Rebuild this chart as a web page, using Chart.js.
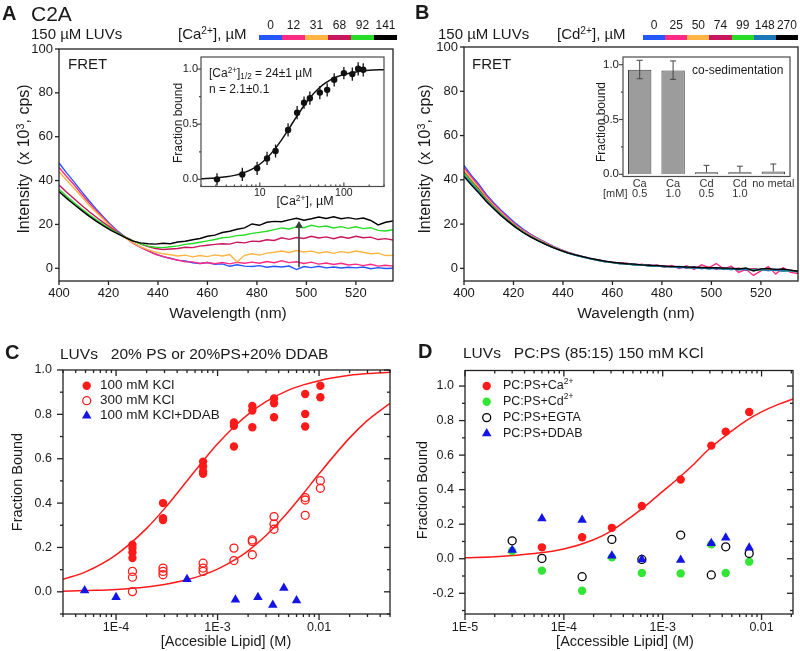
<!DOCTYPE html>
<html>
<head>
<meta charset="utf-8">
<title>C2A FRET and membrane binding</title>
<script src="https://cdn.jsdelivr.net/npm/chart.js@4.4.1/dist/chart.umd.min.js"></script>
<style>
html,body{margin:0;padding:0;background:#fff;}
#fig{position:relative;width:800px;height:651px;overflow:hidden;background:#fff;font-family:"Liberation Sans",Arial,Helvetica,sans-serif;color:#1a1a1a;}
#fig canvas{position:absolute;left:0;top:0;width:800px;height:651px;}
.t{position:absolute;white-space:pre;line-height:1;}
.lm{transform:translateY(-50%);}
.c{transform:translate(-50%,-50%);}
.rot{transform:translate(-50%,-50%) rotate(-90deg);}
.b{font-weight:bold;}
sup,sub{font-size:0.68em;line-height:0;position:relative;vertical-align:baseline;}
sup{top:-0.5em;}
sub{top:0.3em;}
.cbar{position:absolute;display:flex;height:5px;}
.cbar span{flex:1 1 0;}
.clab{position:absolute;display:flex;font-size:12px;line-height:1;}
.clab span{flex:1 1 0;text-align:center;}
</style>
</head>
<body>
<div id="fig">
<canvas id="cA" width="800" height="651"></canvas>
<canvas id="cIA" width="800" height="651"></canvas>
<canvas id="cB" width="800" height="651"></canvas>
<canvas id="cIB" width="800" height="651"></canvas>
<canvas id="cC" width="800" height="651"></canvas>
<canvas id="cD" width="800" height="651"></canvas>

<!-- Panel A texts -->
<div class="t lm b" style="left:2px;top:13px;font-size:20px">A</div>
<div class="t lm" style="left:31px;top:13px;font-size:21px">C2A</div>
<div class="t lm" style="left:31px;top:33px;font-size:15px">150 µM LUVs</div>
<div class="t lm" style="left:178px;top:33px;font-size:15px">[Ca<sup>2+</sup>], µM</div>
<div class="clab" id="labA" style="left:259px;top:19px;width:138px"></div>
<div class="cbar" id="barA" style="left:259px;top:35px;width:138px"></div>
<div class="t lm" style="left:68px;top:63px;font-size:15px">FRET</div>
<div class="t rot" style="left:24px;top:159px;font-size:16px">Intensity  (x 10<sup>3</sup>, cps)</div>
<div class="t c" style="left:228px;top:313px;font-size:15.5px">Wavelength (nm)</div>
<div class="t lm" style="left:209px;top:73px;font-size:12px">[Ca<sup>2+</sup>]<sub>1/2</sub> = 24±1 µM</div>
<div class="t lm" style="left:209px;top:89px;font-size:12px">n = 2.1±0.1</div>
<div class="t rot" style="left:178px;top:123px;font-size:12px">Fraction bound</div>
<div class="t c" style="left:305px;top:201px;font-size:12.5px">[Ca<sup>2+</sup>], µM</div>

<!-- Panel B texts -->
<div class="t lm b" style="left:415px;top:12px;font-size:20px">B</div>
<div class="t lm" style="left:438px;top:33px;font-size:15px">150 µM LUVs</div>
<div class="t lm" style="left:557px;top:33px;font-size:15px">[Cd<sup>2+</sup>], µM</div>
<div class="clab" id="labB" style="left:643px;top:19px;width:155px"></div>
<div class="cbar" id="barB" style="left:643px;top:35px;width:155px"></div>
<div class="t lm" style="left:472px;top:63px;font-size:15px">FRET</div>
<div class="t rot" style="left:425px;top:159px;font-size:16px">Intensity  (x 10<sup>3</sup>, cps)</div>
<div class="t c" style="left:636px;top:313px;font-size:15.5px">Wavelength (nm)</div>
<div class="t lm" style="left:692px;top:70px;font-size:12px">co-sedimentation</div>
<div class="t rot" style="left:601px;top:122px;font-size:12px">Fraction bound</div>
<div class="t lm" style="left:603px;top:193px;font-size:11px;color:#333">[mM]</div>

<!-- Panel C texts -->
<div class="t lm b" style="left:5px;top:352px;font-size:20px">C</div>
<div class="t lm" style="left:60px;top:354px;font-size:15.5px">LUVs   20% PS or 20%PS+20% DDAB</div>
<div class="t rot" style="left:17px;top:482px;font-size:14.5px">Fraction Bound</div>
<div class="t c" style="left:226px;top:641px;font-size:14.5px">[Accesible Lipid] (M)</div>

<!-- Panel D texts -->
<div class="t lm b" style="left:418px;top:351px;font-size:20px">D</div>
<div class="t lm" style="left:463px;top:353px;font-size:15.5px">LUVs   PC:PS (85:15) 150 mM KCl</div>
<div class="t rot" style="left:422px;top:490px;font-size:14.5px">Fraction Bound</div>
<div class="t c" style="left:625px;top:641px;font-size:14.5px">[Accessible Lipid] (M)</div>
</div>

<script>
Chart.defaults.font.family = '"Liberation Sans", Arial, Helvetica, sans-serif';
Chart.defaults.color = '#1a1a1a';

// ================= DATA =================
// Panel A: FRET spectra, [Ca2+] titration
const WL = [400,403,406,409,412,415,418,421,424,427,430,433,436,439,442,445,448,451,454,457,460,463,466,469,472,475,478,481,484,487,490,493,496,499,502,505,508,511,514,517,520,523,526,529,532,535];
const A_CONC = ['0','12','31','68','92','141'];
const A_S0   = [48.0,43.6,39.5,35.2,31.0,27.1,23.4,19.8,16.7,14.0,11.5,9.6,8.0,6.5,5.3,4.6,3.6,3.4,2.5,2.2,2.6,1.8,2.0,0.9,1.6,1.0,0.8,1.2,0.5,0.9,0.6,1.0,-0.6,0.8,0.3,0.9,0.2,0.6,0.1,0.5,0.2,0.6,-0.2,0.3,-0.1,0.0];
const A_S12  = [46.0,42.0,38.2,34.0,30.0,26.3,22.8,19.3,16.3,13.8,11.4,9.5,7.9,6.4,5.4,4.4,3.8,3.0,2.9,2.2,2.6,2.1,2.6,2.0,2.7,2.3,2.8,2.3,3.1,2.5,3.4,2.6,3.0,2.2,2.8,1.9,2.4,1.7,2.3,1.5,1.9,1.2,1.8,1.0,1.4,1.0];
const A_S31  = [44.0,40.3,36.6,32.8,29.0,25.6,22.2,18.9,16.1,13.7,11.6,9.8,8.5,7.4,6.6,6.2,5.6,6.0,5.2,5.8,5.3,6.1,5.6,6.3,2.9,5.9,6.6,6.0,6.9,7.3,7.9,7.2,8.1,7.4,7.8,7.0,7.5,6.8,7.6,7.1,7.9,7.3,6.6,6.9,5.8,5.9];
const A_S68  = [38.0,34.8,31.8,28.9,26.0,23.4,20.8,18.4,16.2,14.2,12.5,11.0,9.9,9.0,8.6,8.8,9.0,9.6,9.4,10.1,10.5,10.9,11.2,11.0,11.9,11.6,12.4,12.2,13.0,12.7,13.9,13.2,14.0,13.6,14.6,13.8,14.3,13.5,14.4,13.7,14.6,13.9,14.2,13.1,13.5,12.9];
const A_S92  = [36.0,32.9,30.0,27.2,24.6,22.2,19.9,17.8,15.9,14.0,12.4,11.1,10.1,9.6,9.4,9.8,10.2,10.9,11.3,11.9,12.5,13.1,13.9,14.2,14.9,15.2,15.9,16.4,16.9,17.6,18.4,17.9,18.9,18.5,19.6,18.9,19.3,18.4,19.0,18.2,18.9,18.1,18.5,17.3,17.0,17.6];
const A_S141 = [35.0,32.0,29.2,26.5,23.9,21.5,19.3,17.3,15.6,13.9,12.4,11.6,11.2,11.0,11.4,11.2,12.0,12.3,13.0,13.6,14.6,15.1,16.3,16.9,17.8,18.4,20.2,19.6,21.0,21.4,21.2,22.1,22.8,21.9,22.6,23.4,22.7,23.5,22.6,23.1,22.4,22.9,21.8,19.8,21.0,21.6];
const A_SERIES = [A_S0, A_S12, A_S31, A_S68, A_S92, A_S141];
const A_COLORS = ['#2456ff','#ff2a84','#ffb443','#c8175c','#26dc26','#000000'];
const ARROW_X = [497, 497];
const ARROW_Y = [0.5, 19.5];
const A_XTICKS = [400,420,440,460,480,500,520];
const A_YTICKS = [0,20,40,60,80,100];

// Inset A: Ca2+ titration of binding
const IA_X   = [3.1,6.2,9.3,12.2,15.4,21.7,27.8,33.6,39.4,51.8,63.3,76.7,100,126,148,170];
const IA_Y   = [0.000,0.045,0.100,0.190,0.257,0.448,0.605,0.696,0.736,0.787,0.812,0.903,0.964,0.955,1.003,0.994];
const IA_ERR = [0.055,0.06,0.06,0.06,0.06,0.06,0.06,0.055,0.06,0.06,0.06,0.06,0.055,0.06,0.06,0.06];
const IA_FIT_X = [2,3,4,5,6,8,10,12,15,18,21,24,28,33,40,50,60,80,100,150,200,300];
const IA_FIT_Y = [0.005,0.013,0.023,0.036,0.052,0.091,0.137,0.189,0.272,0.354,0.43,0.5,0.58,0.661,0.745,0.824,0.873,0.926,0.952,0.979,0.989,0.995];
const IA_XTICKS = [10,100];
const IA_XLAB = ['10','100'];
const IA_YTICKS = [0,0.5,1];
const IA_YLAB = ['0.0','0.5','1.0'];

// Panel B: FRET spectra, [Cd2+] titration
const B_CONC = ['0','25','50','74','99','148','270'];
const B_S0   = [46.5,42.0,38.0,33.4,29.7,26.3,23.2,20.2,17.6,15.4,13.4,11.7,10.0,8.6,7.3,6.3,5.4,4.6,3.8,3.3,2.7,2.5,2.0,1.9,1.4,1.5,1.0,1.2,0.6,0.9,0.2,0.6,-0.2,0.4,-0.3,0.1,-0.6,0.0,-0.8,-0.2,-0.6,-1.0,-0.4,-1.3,-0.8,-1.5];
const B_S25  = [45.5,41.3,37.2,32.7,29.1,25.7,22.6,19.7,17.2,15.1,13.2,11.5,9.8,8.5,7.2,6.1,5.3,4.4,3.8,3.0,2.8,2.2,2.3,1.5,1.9,1.0,1.5,0.5,1.3,0.0,1.2,-0.5,1.6,0.4,2.2,-0.3,1.1,-1.8,-0.4,-3.2,-1.1,0.8,-2.6,0.3,-1.8,-2.3];
const B_S50  = [44.5,40.2,36.3,31.9,28.3,25.1,22.0,19.2,16.8,14.8,13.0,11.3,9.7,8.3,7.1,6.1,5.2,4.5,3.8,3.1,2.7,2.2,2.1,1.6,1.6,1.2,1.2,0.8,0.9,0.5,0.5,0.2,0.3,-0.1,0.2,-0.3,0.0,-0.5,-0.2,-0.7,-0.4,-0.9,-0.6,-1.1,-0.9,-1.3];
const B_S74  = [43.5,39.4,35.6,31.3,27.8,24.6,21.6,18.9,16.5,14.5,12.7,11.1,9.6,8.2,7.0,6.0,5.2,4.4,3.7,3.2,2.6,2.4,1.9,1.8,1.4,1.4,1.0,1.1,0.6,0.8,0.3,0.6,0.0,0.4,-0.2,0.3,-0.4,0.1,-0.6,-0.1,-0.8,-0.3,-1.0,-0.6,-1.1,-1.4];
const B_S99  = [43.0,39.0,35.2,31.0,27.6,24.4,21.5,18.8,16.4,14.4,12.6,11.0,9.5,8.1,6.9,6.0,5.1,4.4,3.6,3.1,2.6,2.2,2.0,1.6,1.5,1.2,1.1,0.8,0.8,0.5,0.5,0.2,0.3,0.0,0.1,-0.3,-0.1,-0.5,-0.3,-0.7,-0.5,-0.9,-0.7,-1.1,-1.0,-1.6];
const B_S148 = [42.0,38.2,34.6,30.6,27.3,24.1,21.3,18.6,16.3,14.3,12.5,10.9,9.4,8.1,6.9,5.9,5.1,4.3,3.7,3.0,2.6,2.1,2.0,1.5,1.5,1.1,1.1,0.7,0.8,0.3,0.5,0.0,0.3,-0.3,0.1,-0.4,-0.2,-0.6,-0.4,-0.8,-0.5,-1.0,-0.8,-1.2,-1.0,-1.5];
const B_S270 = [41.5,37.6,34.0,30.2,26.9,23.8,21.0,18.4,16.1,14.1,12.4,10.8,9.4,8.1,7.0,6.1,5.3,4.5,3.9,3.3,2.8,2.4,2.1,1.9,1.6,1.4,1.3,1.0,0.9,0.8,0.6,0.5,0.4,0.3,0.3,0.1,0.1,-0.3,0.2,-1.2,-0.2,0.0,-0.5,-0.3,-0.8,-1.3];
const B_SERIES = [B_S0, B_S25, B_S50, B_S74, B_S99, B_S148, B_S270];
const B_COLORS = ['#2456ff','#ff2a84','#ffb443','#c8175c','#26dc26','#1a78b8','#000000'];

// Inset B: co-sedimentation
const IB_CATS = [['Ca','0.5'],['Ca','1.0'],['Cd','0.5'],['Cd','1.0'],'no metal'];
const IB_VAL  = [0.954,0.948,0.018,0.018,0.026];
const IB_UP   = [0.086,0.086,0.064,0.056,0.068];
const IB_DN   = [0.082,0.082,0,0,0];
const IB_YTICKS = [0,0.5,1];
const IB_YLAB = ['0.0','0.5','1.0'];

// Panel C
const C_X_100 = [1.45e-4,1.45e-4,1.45e-4,1.45e-4,2.9e-4,2.9e-4,2.9e-4,7.2e-4,7.2e-4,7.2e-4,7.2e-4,1.45e-3,1.45e-3,1.45e-3,2.2e-3,2.2e-3,2.2e-3,3.6e-3,3.6e-3,3.6e-3,7.3e-3,7.3e-3,7.3e-3,1.03e-2,1.03e-2];
const C_Y_100 = [0.212,0.197,0.177,0.152,0.400,0.332,0.324,0.587,0.565,0.542,0.532,0.763,0.748,0.655,0.838,0.817,0.742,0.872,0.850,0.787,0.892,0.802,0.745,0.929,0.877];
const C_X_300 = [1.45e-4,1.45e-4,1.45e-4,2.9e-4,2.9e-4,2.9e-4,7.2e-4,7.2e-4,7.2e-4,1.45e-3,1.45e-3,2.2e-3,2.2e-3,2.2e-3,3.6e-3,3.6e-3,3.6e-3,7.3e-3,7.3e-3,7.3e-3,1.03e-2,1.03e-2];
const C_Y_300 = [0.092,0.066,0.001,0.107,0.092,0.077,0.129,0.107,0.092,0.197,0.141,0.234,0.227,0.167,0.339,0.306,0.282,0.425,0.414,0.345,0.501,0.467];
const C_X_DDAB = [4.9e-5,1.0e-4,5.0e-4,1.5e-3,2.5e-3,3.5e-3,4.5e-3,6.0e-3];
const C_Y_DDAB = [0.006,-0.024,0.057,-0.036,-0.024,-0.059,0.017,-0.039];
const C_FIT_X   = [3e-5,5e-5,1e-4,2e-4,3e-4,5e-4,7e-4,1e-3,1.5e-3,2e-3,3e-3,5e-3,7e-3,1e-2,2e-2,3e-2,5e-2];
const C_FIT_100 = [0.056,0.09,0.167,0.286,0.375,0.5,0.583,0.667,0.75,0.8,0.857,0.909,0.933,0.952,0.976,0.984,0.99];
const C_FIT_300 = [0.003,0.006,0.011,0.022,0.033,0.054,0.074,0.102,0.146,0.185,0.254,0.362,0.443,0.532,0.694,0.773,0.85];
const C_XTICKS = [1e-4,1e-3,1e-2];
const C_XLAB = ['1E-4','1E-3','0.01'];
const C_YTICKS = [0,0.2,0.4,0.6,0.8,1.0];
const C_YLAB = ['0.0','0.2','0.4','0.6','0.8','1.0'];

// Panel D
const D_X_CA = [6.0e-5,1.53e-4,3.06e-4,6.15e-4,1.52e-3,3.1e-3,4.34e-3,7.5e-3];
const D_Y_CA = [0.066,0.124,0.179,0.305,0.459,0.655,0.736,0.850];
const D_X    = [3.0e-5,6.0e-5,1.53e-4,3.06e-4,6.15e-4,1.52e-3,3.1e-3,4.34e-3,7.5e-3];
const D_Y_CD   = [0.045,-0.069,-0.185,0.008,-0.083,-0.085,0.083,-0.083,-0.017];
const D_Y_EGTA = [0.104,0.002,-0.104,0.112,-0.004,0.137,-0.094,0.069,0.031];
const D_Y_DDAB = [0.050,0.233,0.224,0.017,-0.004,-0.008,0.089,0.121,0.064];
const D_FIT_X = [1e-5,2e-5,5e-5,1e-4,2e-4,3e-4,5e-4,7e-4,1e-3,1.5e-3,2e-3,3e-3,5e-3,7e-3,1e-2,1.5e-2,2.08e-2];
const D_FIT_Y = [0.006,0.012,0.03,0.056,0.11,0.16,0.25,0.315,0.39,0.475,0.54,0.64,0.74,0.8,0.85,0.895,0.925];
const D_XTICKS = [1e-5,1e-4,1e-3,1e-2];
const D_XLAB = ['1E-5','1E-4','1E-3','0.01'];
const D_YTICKS = [-0.2,0,0.2,0.4,0.6,0.8,1.0];
const D_YLAB = ['-0.2','0.0','0.2','0.4','0.6','0.8','1.0'];

// ================= HELPERS =================
const pts = (xs, ys) => xs.map((x, i) => ({x: x, y: ys[i]}));

function fixSize(size) {
  return s => {
    if (s.isHorizontal()) s.height = size; else s.width = size;
    s.paddingLeft = 0; s.paddingRight = 0; s.paddingTop = 0; s.paddingBottom = 0;
  };
}
function numAxis(type, min, max, vals, labels, size, pad, fs) {
  return {
    type: type, min: min, max: max, bounds: 'data',
    grid: {display: false, drawTicks: false, tickLength: 0},
    border: {display: false},
    ticks: {autoSkip: false, maxRotation: 0, minRotation: 0, padding: pad, font: {size: fs}, color: '#1a1a1a',
            callback: (v, i) => labels[i]},
    afterBuildTicks: s => { s.ticks = vals.map(v => ({value: v})); },
    afterFit: fixSize(size)
  };
}
function opts(box, scales) {
  return {
    responsive: false, animation: false, events: [],
    layout: {padding: {left: box.L - box.yW, right: 800 - box.R, top: box.T, bottom: 651 - box.B - box.xH}},
    plugins: {legend: {display: false}, tooltip: {enabled: false}},
    scales: scales
  };
}
function logMinor(min, max) {
  const out = [];
  for (let e = Math.floor(Math.log10(min)); e <= Math.ceil(Math.log10(max)); e++) {
    for (let k = 2; k <= 9; k++) {
      const v = k * Math.pow(10, e);
      if (v >= min * 0.999 && v <= max * 1.001) out.push(v);
    }
  }
  return out;
}
function framePlugin(o) {
  return {id: 'frame', afterDraw(chart) {
    const c = chart.ctx, a = chart.chartArea, X = chart.scales.x, Y = chart.scales.y;
    c.save();
    c.strokeStyle = o.color; c.lineWidth = o.lw;
    c.strokeRect(a.left, a.top, a.right - a.left, a.bottom - a.top);
    const seg = (x1, y1, x2, y2) => { c.beginPath(); c.moveTo(x1, y1); c.lineTo(x2, y2); c.stroke(); };
    const side = (s, dir, vals, len) => {
      if (!dir || !vals) return;
      const sg = dir === 'out' ? 1 : -1;
      vals.forEach(v => {
        if (s === 'b' || s === 't') {
          const p = X.getPixelForValue(v);
          if (p < a.left - 0.5 || p > a.right + 0.5) return;
          const y0 = s === 'b' ? a.bottom : a.top;
          seg(p, y0, p, y0 + (s === 'b' ? 1 : -1) * sg * len);
        } else {
          const p = Y.getPixelForValue(v);
          if (p < a.top - 0.5 || p > a.bottom + 0.5) return;
          const x0 = s === 'l' ? a.left : a.right;
          seg(x0, p, x0 + (s === 'l' ? -1 : 1) * sg * len, p);
        }
      });
    };
    ['b', 't', 'l', 'r'].forEach(s => {
      const dir = o.sides[s];
      const h = (s === 'b' || s === 't');
      side(s, dir, h ? o.xMaj : o.yMaj, o.maj);
      side(s, dir, h ? o.xMin : o.yMin, o.min);
    });
    c.restore();
  }};
}
function errPlugin(o) {
  return {id: 'errbars', afterDatasetsDraw(chart) {
    const c = chart.ctx, meta = chart.getDatasetMeta(o.ds), Y = chart.scales.y, a = chart.chartArea;
    c.save();
    c.beginPath(); c.rect(a.left, a.top, a.right - a.left, a.bottom - a.top); c.clip();
    c.strokeStyle = o.color; c.lineWidth = o.lw;
    meta.data.forEach((el, i) => {
      const x = el.x, v = o.vals[i];
      const y1 = Y.getPixelForValue(v + o.up[i]), y2 = Y.getPixelForValue(v - o.dn[i]);
      c.beginPath(); c.moveTo(x, y1); c.lineTo(x, y2); c.stroke();
      if (o.cap) {
        if (o.up[i] > 0) { c.beginPath(); c.moveTo(x - o.cap, y1); c.lineTo(x + o.cap, y1); c.stroke(); }
        if (o.dn[i] > 0) { c.beginPath(); c.moveTo(x - o.cap, y2); c.lineTo(x + o.cap, y2); c.stroke(); }
      }
    });
    c.restore();
  }};
}
function marker(c, style, r, fill, stroke, lw, x, y) {
  c.beginPath();
  if (style === 'triangle') {
    const t = 2 * Math.PI / 3;
    c.moveTo(x, y - r);
    c.lineTo(x + r * Math.sin(t), y - r * Math.cos(t));
    c.lineTo(x + r * Math.sin(2 * t), y - r * Math.cos(2 * t));
    c.closePath();
  } else {
    c.arc(x, y, r, 0, Math.PI * 2);
  }
  if (fill && fill !== 'rgba(0,0,0,0)') { c.fillStyle = fill; c.fill(); }
  if (lw) { c.strokeStyle = stroke; c.lineWidth = lw; c.stroke(); }
}
function legendPlugin(o) {
  return {id: 'lgd', afterDraw(chart) {
    const c = chart.ctx;
    c.save();
    c.textBaseline = 'middle'; c.textAlign = 'left'; c.fillStyle = '#1a1a1a';
    o.items.forEach((it, i) => {
      const ds = chart.data.datasets[it.ds];
      const y = o.y + i * o.dy;
      marker(c, ds.pointStyle || 'circle', ds.pointRadius, ds.pointBackgroundColor, ds.pointBorderColor, ds.pointBorderWidth, o.x, y);
      let x = o.tx;
      it.parts.forEach(p => {
        const fs = p[1] ? o.fs * 0.68 : o.fs;
        c.font = fs + 'px "Liberation Sans", Arial, sans-serif';
        c.fillStyle = '#1a1a1a';
        c.fillText(p[0], x, p[1] ? y - o.fs * 0.38 : y);
        x += c.measureText(p[0]).width;
      });
    });
    c.restore();
  }};
}
function colorbar(barId, labId, conc, colors) {
  const bar = document.getElementById(barId), lab = document.getElementById(labId);
  conc.forEach((v, i) => {
    const s = document.createElement('span'); s.style.background = colors[i]; bar.appendChild(s);
    const l = document.createElement('span'); l.textContent = v; lab.appendChild(l);
  });
}
colorbar('barA', 'labA', A_CONC, A_COLORS);
colorbar('barB', 'labB', B_CONC, B_COLORS);

// ================= PANEL A =================
new Chart(document.getElementById('cA'), {
  type: 'line',
  data: {datasets: [
    ...A_SERIES.map((s, i) => ({label: '[Ca2+] ' + A_CONC[i] + ' µM', data: pts(WL, s), borderColor: A_COLORS[i],
      borderWidth: 1.4, pointRadius: 0, tension: 0, fill: false, order: A_SERIES.length - i + 1})),
    {label: 'arrow', data: pts(ARROW_X, ARROW_Y), borderColor: '#3a3a3a', borderWidth: 1.6, pointRadius: [0, 4.5],
      pointStyle: 'triangle', pointBackgroundColor: '#3a3a3a', pointBorderColor: '#3a3a3a', pointBorderWidth: 0, order: 0}
  ]},
  options: opts({L: 59, R: 393, T: 49, B: 281, yW: 40, xH: 30}, {
    x: numAxis('linear', 400, 535, A_XTICKS, A_XTICKS.map(String), 30, 5, 13),
    y: numAxis('linear', -5.8, 100, A_YTICKS, A_YTICKS.map(String), 40, 6, 13)
  }),
  plugins: [framePlugin({color: '#222', lw: 1.3, sides: {b: 'out', l: 'out'}, xMaj: A_XTICKS, yMaj: A_YTICKS, maj: 4, min: 2})]
});

// ================= INSET A =================
new Chart(document.getElementById('cIA'), {
  type: 'line',
  data: {datasets: [
    {label: 'fraction bound', data: pts(IA_X, IA_Y), showLine: false, pointRadius: 3.2, pointBackgroundColor: '#111',
      pointBorderColor: '#111', pointBorderWidth: 0, order: 0},
    {label: 'Hill fit', data: pts(IA_FIT_X, IA_FIT_Y), borderColor: '#111', borderWidth: 1.5, pointRadius: 0,
      cubicInterpolationMode: 'monotone', fill: false, order: 1}
  ]},
  options: opts({L: 201, R: 384, T: 57, B: 186.5, yW: 25, xH: 20}, {
    x: numAxis('logarithmic', 2, 300, IA_XTICKS, IA_XLAB, 20, 0, 10.5),
    y: numAxis('linear', -0.065, 1.11, IA_YTICKS, IA_YLAB, 25, 3, 11)
  }),
  plugins: [
    errPlugin({ds: 0, vals: IA_Y, up: IA_ERR, dn: IA_ERR, color: '#111', lw: 1.3, cap: 0}),
    framePlugin({color: '#4a4a4a', lw: 1.2, sides: {b: 'in', l: 'out'}, xMaj: IA_XTICKS, xMin: logMinor(2, 300),
      yMaj: IA_YTICKS, yMin: [0.25, 0.75], maj: 4, min: 2})
  ]
});

// ================= PANEL B =================
new Chart(document.getElementById('cB'), {
  type: 'line',
  data: {datasets: B_SERIES.map((s, i) => ({label: '[Cd2+] ' + B_CONC[i] + ' µM', data: pts(WL, s), borderColor: B_COLORS[i],
      borderWidth: 1.4, pointRadius: 0, tension: 0, fill: false, order: B_SERIES.length - i}))},
  options: opts({L: 464, R: 798, T: 47, B: 281, yW: 40, xH: 30}, {
    x: numAxis('linear', 400, 535, A_XTICKS, A_XTICKS.map(String), 30, 5, 13),
    y: numAxis('linear', -5.7, 100, A_YTICKS, A_YTICKS.map(String), 40, 6, 13)
  }),
  plugins: [framePlugin({color: '#222', lw: 1.3, sides: {b: 'out', l: 'out'}, xMaj: A_XTICKS, yMaj: A_YTICKS, maj: 4, min: 2})]
});

// ================= INSET B =================
new Chart(document.getElementById('cIB'), {
  type: 'bar',
  data: {labels: IB_CATS, datasets: [{label: 'fraction bound', data: IB_VAL, backgroundColor: '#9c9c9c', borderColor: '#3c3c3c',
    borderWidth: 1, barPercentage: 0.7, categoryPercentage: 1}]},
  options: opts({L: 623, R: 790, T: 57, B: 176.5, yW: 25, xH: 30}, {
    x: {type: 'category', grid: {display: false, drawTicks: false, tickLength: 0}, border: {display: false},
        ticks: {padding: 2.5, autoSkip: false, maxRotation: 0, minRotation: 0, color: '#333', font: {size: 11, lineHeight: 0.9}},
        afterFit: fixSize(30)},
    y: numAxis('linear', -0.02, 1.07, IB_YTICKS, IB_YLAB, 25, 4, 11.5)
  }),
  plugins: [
    errPlugin({ds: 0, vals: IB_VAL, up: IB_UP, dn: IB_DN, color: '#444', lw: 1, cap: 3}),
    framePlugin({color: '#4a4a4a', lw: 1.2, sides: {l: 'out'}, yMaj: IB_YTICKS, yMin: [0.25, 0.75], maj: 4, min: 2})
  ]
});

// ================= PANEL C =================
new Chart(document.getElementById('cC'), {
  type: 'line',
  data: {datasets: [
    {label: '100 mM KCl', data: pts(C_X_100, C_Y_100), showLine: false, pointStyle: 'circle', pointRadius: 4.2,
      pointBackgroundColor: '#ff1a1a', pointBorderColor: '#ff1a1a', pointBorderWidth: 0, order: 1},
    {label: '300 mM KCl', data: pts(C_X_300, C_Y_300), showLine: false, pointStyle: 'circle', pointRadius: 4,
      pointBackgroundColor: 'rgba(0,0,0,0)', pointBorderColor: '#ff1a1a', pointBorderWidth: 1.3, order: 2},
    {label: '100 mM KCl+DDAB', data: pts(C_X_DDAB, C_Y_DDAB), showLine: false, pointStyle: 'triangle', pointRadius: 5.5,
      pointBackgroundColor: '#1414e6', pointBorderColor: '#1414e6', pointBorderWidth: 0, order: 0},
    {label: 'fit 100', data: pts(C_FIT_X, C_FIT_100), borderColor: '#ff1a1a', borderWidth: 1.5, pointRadius: 0,
      cubicInterpolationMode: 'monotone', fill: false, order: 5},
    {label: 'fit 300', data: pts(C_FIT_X, C_FIT_300), borderColor: '#ff1a1a', borderWidth: 1.5, pointRadius: 0,
      cubicInterpolationMode: 'monotone', fill: false, order: 5}
  ]},
  options: opts({L: 63, R: 390, T: 370, B: 614, yW: 45, xH: 30}, {
    x: numAxis('logarithmic', 3e-5, 0.05, C_XTICKS, C_XLAB, 30, 6, 12.5),
    y: numAxis('linear', -0.1, 1.0, C_YTICKS, C_YLAB, 45, 11, 12.5)
  }),
  plugins: [
    framePlugin({color: '#222', lw: 1.3, sides: {b: 'out', t: 'in', l: 'out', r: 'in'},
      xMaj: C_XTICKS, xMin: logMinor(3e-5, 0.05), yMaj: C_YTICKS, yMin: [-0.1, 0.1, 0.3, 0.5, 0.7, 0.9], maj: 6, min: 3}),
    legendPlugin({x: 86.7, y: 385.7, dy: 15, tx: 100, fs: 13.5,
      items: [{ds: 0, parts: [['100 mM KCl', 0]]}, {ds: 1, parts: [['300 mM KCl', 0]]}, {ds: 2, parts: [['100 mM KCl+DDAB', 0]]}]})
  ]
});

// ================= PANEL D =================
new Chart(document.getElementById('cD'), {
  type: 'line',
  data: {datasets: [
    {label: 'PC:PS+Ca2+', data: pts(D_X_CA, D_Y_CA), showLine: false, pointStyle: 'circle', pointRadius: 4.2,
      pointBackgroundColor: '#ff1a1a', pointBorderColor: '#ff1a1a', pointBorderWidth: 0, order: 3},
    {label: 'PC:PS+Cd2+', data: pts(D_X, D_Y_CD), showLine: false, pointStyle: 'circle', pointRadius: 4.2,
      pointBackgroundColor: '#33e633', pointBorderColor: '#33e633', pointBorderWidth: 0, order: 2},
    {label: 'PC:PS+EGTA', data: pts(D_X, D_Y_EGTA), showLine: false, pointStyle: 'circle', pointRadius: 4,
      pointBackgroundColor: 'rgba(0,0,0,0)', pointBorderColor: '#000', pointBorderWidth: 1.3, order: 1},
    {label: 'PC:PS+DDAB', data: pts(D_X, D_Y_DDAB), showLine: false, pointStyle: 'triangle', pointRadius: 5.5,
      pointBackgroundColor: '#1414e6', pointBorderColor: '#1414e6', pointBorderWidth: 0, order: 0},
    {label: 'fit', data: pts(D_FIT_X, D_FIT_Y), borderColor: '#ff1a1a', borderWidth: 1.5, pointRadius: 0,
      cubicInterpolationMode: 'monotone', fill: false, order: 5}
  ]},
  options: opts({L: 465, R: 793, T: 370.5, B: 614, yW: 45, xH: 30}, {
    x: numAxis('logarithmic', 1e-5, 0.0208, D_XTICKS, D_XLAB, 30, 6, 12.5),
    y: numAxis('linear', -0.32, 1.09, D_YTICKS, D_YLAB, 45, 11, 12.5)
  }),
  plugins: [
    framePlugin({color: '#222', lw: 1.3, sides: {b: 'out', t: 'in', l: 'out', r: 'in'},
      xMaj: D_XTICKS, xMin: logMinor(1e-5, 0.0208), yMaj: D_YTICKS, yMin: [-0.3, -0.1, 0.1, 0.3, 0.5, 0.7, 0.9], maj: 6, min: 3}),
    legendPlugin({x: 486.7, y: 386, dy: 15.8, tx: 503, fs: 12.5,
      items: [{ds: 0, parts: [['PC:PS+Ca', 0], ['2+', 1]]}, {ds: 1, parts: [['PC:PS+Cd', 0], ['2+', 1]]},
              {ds: 2, parts: [['PC:PS+EGTA', 0]]}, {ds: 3, parts: [['PC:PS+DDAB', 0]]}]})
  ]
});
</script>
</body>
</html>
